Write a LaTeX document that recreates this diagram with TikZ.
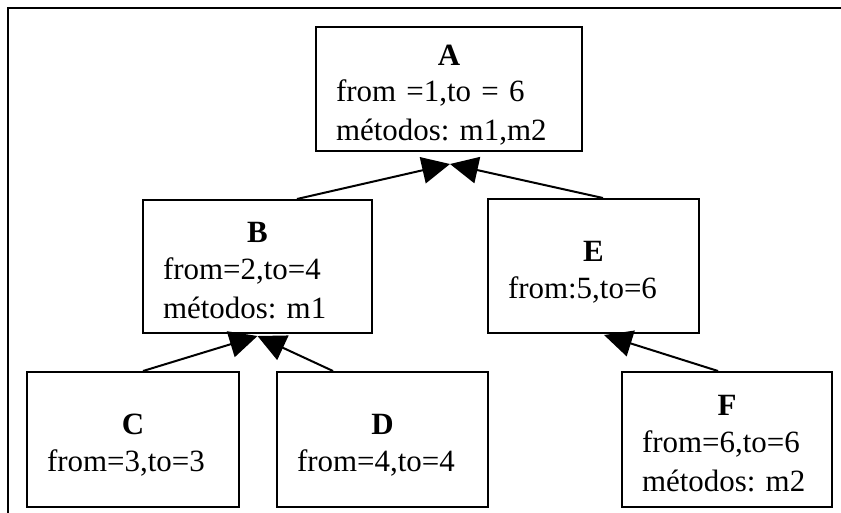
\documentclass[tikz,border=0pt]{standalone}
\usepackage{fontspec}
\setmainfont{Liberation Serif}
\usetikzlibrary{arrows.meta}
% one line of a class box: fixed height and depth so that baselines are evenly spaced
\newcommand\clsstrut{\vrule height 24.25pt depth 3.25pt width 0pt}
\newcommand\clstitle[1]{\clsstrut\makebox[\linewidth]{\bfseries #1}}
\begin{document}
\frenchspacing
\begin{tikzpicture}[x=0.75pt,y=-0.75pt,
  cls/.style={draw,line width=1.5pt,inner xsep=15pt,inner ysep=0pt,
    align=left,anchor=center,font=\fontsize{23.2}{27.5}\selectfont\frenchspacing},
  inh/.style={line width=1.5pt,-{Triangle[length=21pt,width=20pt]}}]
\useasboundingbox (0,0) rectangle (841,512);

% outer frame
\draw[line width=1.5pt] (8,530) -- (8,8) -- (860,8);

% classes
\node[cls,text width=169.5pt,minimum height=93pt] (A) at (449,89)
  {\clstitle{A}\\\clsstrut from =1,to = 6\\\clsstrut métodos: m1,m2};
\node[cls,text width=141.75pt,minimum height=99.75pt] (B) at (257.5,266.5)
  {\clstitle{B}\\\clsstrut from=2,to=4\\\clsstrut métodos: m1};
\node[cls,text width=128.25pt,minimum height=100.5pt] (E) at (593.5,266)
  {\clstitle{E}\\\clsstrut from:5,to=6};
\node[cls,text width=129pt,minimum height=101.25pt] (C) at (133,439.5)
  {\clstitle{C}\\\clsstrut from=3,to=3};
\node[cls,text width=128.25pt,minimum height=101.25pt] (D) at (382.5,439.5)
  {\clstitle{D}\\\clsstrut from=4,to=4};
\node[cls,text width=127.5pt,minimum height=101.25pt] (F) at (727,439.5)
  {\clstitle{F}\\\clsstrut from=6,to=6\\\clsstrut métodos: m2};

% arrow tip points below the parents
\coordinate (A-in) at ([xshift=0.75pt,yshift=-9pt]A.south);
\coordinate (B-in) at ([yshift=-1.5pt]B.south);
\coordinate (E-in) at ([xshift=7.9pt,yshift=-0.75pt]E.south);

% inheritance edges
\draw[inh] ([xshift=29.6pt]B.north) -- (A-in);
\draw[inh] ([xshift=7.1pt]E.north) -- (A-in);
\draw[inh] ([xshift=7.5pt]C.north) -- (B-in);
\draw[inh] ([xshift=-37.1pt]D.north) -- (B-in);
\draw[inh] ([xshift=-6.75pt]F.north) -- (E-in);
\end{tikzpicture}
\end{document}
